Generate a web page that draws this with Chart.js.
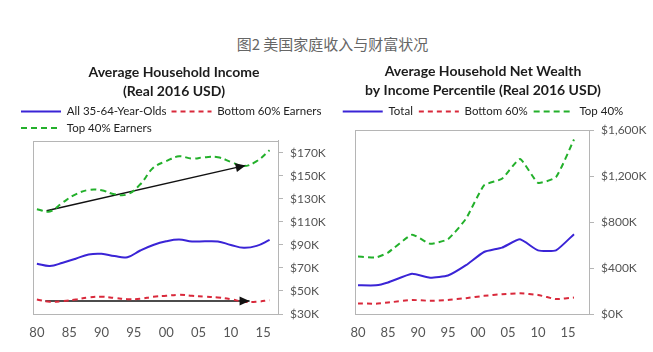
<!DOCTYPE html>
<html>
<head>
<meta charset="utf-8">
<script src="https://cdn.jsdelivr.net/npm/chart.js@4/dist/chart.umd.min.js"></script>
<style>
  body { margin: 0; background: #fff; width: 653px; height: 352px; position: relative; overflow: hidden; }
  #caption { position: absolute; left: 6px; width: 653px; top: 33px; line-height: 20px; text-align: center;
    font: 15px "Noto Sans CJK SC", sans-serif; color: #666; }
  #income { position: absolute; left: 0; top: 58px; width: 332px; height: 294px; }
  #wealth { position: absolute; left: 315px; top: 58px; width: 336px; height: 294px; }
</style>
</head>
<body>
<div id="caption">图2 美国家庭收入与财富状况</div>
<canvas id="income" width="332" height="294"></canvas>
<canvas id="wealth" width="336" height="294"></canvas>
<script>
// 收入 (千美元, 2016 实际)
const incomeYears = [1980, 1982, 1984, 1986, 1988, 1990, 1992, 1994, 1996, 1998, 2000, 2002, 2004, 2006, 2008, 2010, 2012, 2014, 2016];
const incomeAll = [73.7, 71.7, 74.6, 78, 81.7, 82.3, 80.3, 79.4, 85.2, 90, 93.2, 94.7, 93, 93.2, 93, 90, 87.5, 89.2, 94.4];
const incomeBottom = [42.6, 40.6, 41.2, 42.6, 44.4, 45, 44, 42.9, 43.2, 45, 45.8, 46.7, 45.8, 45, 44.4, 42.9, 40.6, 40.6, 42];
const incomeTop = [121.1, 119.1, 126.9, 134, 137.8, 137.5, 134, 134, 142.7, 157, 162.8, 167, 165, 166.3, 166.3, 162.2, 158.5, 162.8, 172.3];
const incomeTicks = [30, 50, 70, 90, 110, 130, 150, 170];

// 趋势箭头
const arrowTopX = [1981.5, 2012.3];
const arrowTopY = [119.7, 159.1];
const arrowLowX = [1981.3, 2012.9];
const arrowLowY = [41.3, 41.3];

// 财富 (千美元)
const wealthYears = [1980, 1983, 1985, 1989, 1992, 1995, 1998, 2001, 2004, 2007, 2010, 2013, 2016];
const wealthTotal = [250, 250, 275, 350, 316, 335, 425, 540, 578, 650, 554, 554, 695];
const wealthBottom = [92, 90, 100, 122, 115, 122, 138, 158, 172, 180, 166, 130, 143];
const wealthTop = [500, 492, 535, 690, 612, 652, 830, 1120, 1178, 1350, 1143, 1192, 1520];
const wealthTicks = [0, 400, 800, 1200, 1600];

const yearTicks = [1980, 1985, 1990, 1995, 2000, 2005, 2010, 2015];

const BLUE = "#3a24d6";
const RED = "#d9293b";
const GREEN = "#23b02b";
const AXIS = "#b5b5b5";
const FONT = "Lato";

const pts = (xs, ys) => xs.map((x, i) => ({ x, y: ys[i] }));

const frame = {
  id: "frame",
  beforeDatasetsDraw(chart) {
    const { ctx, chartArea: a } = chart;
    ctx.save();
    ctx.strokeStyle = AXIS;
    ctx.lineWidth = 1;
    ctx.strokeRect(Math.round(a.left) + 0.5, Math.round(a.top) + 0.5,
      Math.round(a.right - a.left), Math.round(a.bottom - a.top));
    ctx.restore();
  },
};

const arrowHeads = {
  id: "arrowHeads",
  afterDatasetsDraw(chart) {
    const ctx = chart.ctx;
    chart.data.datasets.forEach((ds, i) => {
      if (!ds.isArrow) return;
      const p = chart.getDatasetMeta(i).data;
      const a = p[p.length - 2], b = p[p.length - 1];
      const ang = Math.atan2(b.y - a.y, b.x - a.x);
      ctx.save();
      ctx.translate(b.x, b.y);
      ctx.rotate(ang);
      ctx.beginPath();
      ctx.moveTo(0, 0);
      ctx.lineTo(-10, -4.5);
      ctx.lineTo(-10, 4.5);
      ctx.closePath();
      ctx.fillStyle = ds.borderColor;
      ctx.fill();
      ctx.restore();
    });
  },
};

const legendGap = (gap) => ({
  id: "legendGap",
  beforeInit(chart) {
    const fit = chart.legend.fit;
    chart.legend.fit = function () {
      fit.call(this);
      this.height += gap;
    };
  },
});

// legend lines take the dataset's own dash (point style would drop it)
function legendLabels(chart) {
  const items = Chart.defaults.plugins.legend.labels.generateLabels(chart);
  return items
    .filter((it) => !chart.data.datasets[it.datasetIndex].isArrow)
    .map((it) => {
      const ds = chart.data.datasets[it.datasetIndex];
      it.lineDash = ds.borderDash;
      it.strokeStyle = ds.borderColor;
      it.lineWidth = ds.borderWidth;
      it.pointStyle = "line";
      return it;
    });
}

function lineSet(label, data, color, dash, tension) {
  return {
    label, data,
    borderColor: color, backgroundColor: color,
    borderWidth: 2, borderDash: dash,
    pointRadius: 0, tension, fill: false,
  };
}

function arrowSet(xs, ys) {
  return {
    label: "", data: pts(xs, ys), isArrow: true,
    borderColor: "#111", borderWidth: 1.4, pointRadius: 0, tension: 0,
  };
}

function makeOptions(cfg) {
  return {
    responsive: false,
    animation: false,
    layout: { padding: { left: cfg.padLeft, right: 0, top: 0, bottom: 0 } },
    plugins: {
      title: {
        display: true,
        text: cfg.title,
        color: "#1c1c1c",
        font: { family: FONT, size: 14, weight: "bold", lineHeight: 1.35 },
        padding: { top: cfg.titleTop, bottom: 0 },
      },
      legend: {
        display: true,
        align: cfg.legendAlign,
        labels: {
          usePointStyle: true,
          pointStyle: "line",
          pointStyleWidth: 40,
          padding: cfg.legendPad,
          color: "#222",
          font: { family: FONT, size: 11.5 },
          generateLabels: legendLabels,
        },
      },
      tooltip: { enabled: false },
    },
    scales: {
      x: {
        type: "linear",
        min: cfg.xMin,
        max: cfg.xMax,
        afterBuildTicks: (s) => { s.ticks = yearTicks.map((v) => ({ value: v })); },
        afterFit: (s) => { s.height = 38; },
        grid: { display: false, drawTicks: false },
        border: { display: false },
        ticks: {
          padding: 11,
          color: "#555",
          font: { family: FONT, size: 13 },
          maxRotation: 0,
          callback: (v) => String(v % 100).padStart(2, "0"),
        },
      },
      y: {
        position: "right",
        min: cfg.yMin,
        max: cfg.yMax,
        afterBuildTicks: (s) => { s.ticks = cfg.yTicks.map((v) => ({ value: v })); },
        afterFit: (s) => { s.width = cfg.yWidth; },
        grid: { drawOnChartArea: false, drawTicks: true, tickLength: 5, color: AXIS },
        border: { display: true, color: AXIS },
        ticks: {
          padding: 7,
          color: "#555",
          font: { family: FONT, size: 12 },
          callback: cfg.yFormat,
        },
      },
      yPad: {
        position: "left",
        display: true,
        grid: { display: false },
        border: { display: false },
        ticks: { display: false },
        afterFit: (s) => { s.width = cfg.leftGap; },
      },
    },
  };
}

new Chart(document.getElementById("income"), {
  type: "line",
  data: {
    datasets: [
      lineSet("All 35-64-Year-Olds", pts(incomeYears, incomeAll), BLUE, [], 0.4),
      lineSet("Bottom 60% Earners", pts(incomeYears, incomeBottom), RED, [5, 4], 0.4),
      lineSet("Top 40% Earners", pts(incomeYears, incomeTop), GREEN, [6, 4], 0.4),
      arrowSet(arrowTopX, arrowTopY),
      arrowSet(arrowLowX, arrowLowY),
    ],
  },
  options: makeOptions({
    title: ["Average Household Income", "(Real 2016 USD)"],
    titleTop: 5,
    padLeft: 16,
    leftGap: 17,
    legendAlign: "start",
    legendPad: 5,
    xMin: 1979.4, xMax: 2017.3,
    yMin: 30, yMax: 180.5,
    yTicks: incomeTicks,
    yWidth: 54,
    yFormat: (v) => "$" + v + "K",
  }),
  plugins: [frame, arrowHeads, legendGap(-3)],
});

new Chart(document.getElementById("wealth"), {
  type: "line",
  data: {
    datasets: [
      lineSet("Total", pts(wealthYears, wealthTotal), BLUE, [], 0.15),
      lineSet("Bottom 60%", pts(wealthYears, wealthBottom), RED, [5, 4], 0.15),
      lineSet("Top 40%", pts(wealthYears, wealthTop), GREEN, [6, 4], 0.15),
    ],
  },
  options: makeOptions({
    title: ["Average Household Net Wealth", "by Income Percentile (Real 2016 USD)"],
    titleTop: 4,
    padLeft: 0,
    leftGap: 40,
    legendAlign: "center",
    legendPad: 6,
    xMin: 1979.5, xMax: 2018.5,
    yMin: 0, yMax: 1600,
    yTicks: wealthTicks,
    yWidth: 62,
    yFormat: (v) => "$" + v.toLocaleString("en-US") + "K",
  }),
  plugins: [frame, legendGap(3)],
});
</script>
</body>
</html>
